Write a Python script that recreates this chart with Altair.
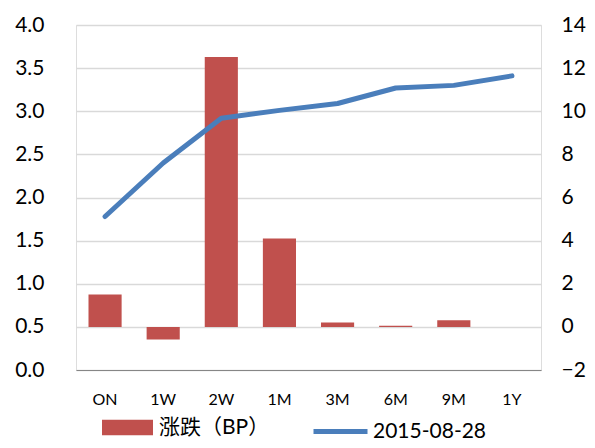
import altair as alt
import pandas as pd

tenors = ["ON", "1W", "2W", "1M", "3M", "6M", "9M", "1Y"]
change_bp = [1.50, -0.59, 12.52, 4.10, 0.20, 0.05, 0.31, 0.0]
rate_0828 = [1.78, 2.40, 2.92, 3.01, 3.09, 3.27, 3.30, 3.41]
bar_name = "涨跌（BP）"
line_name = "2015-08-28"

df = pd.DataFrame({
    "tenor": tenors,
    "change": change_bp,
    "rate": rate_0828,
    "s_bar": bar_name,
    "s_line": line_name,
})

FONT = "Lato, Noto Sans CJK SC, sans-serif"

x = alt.X("tenor:N", sort=tenors, title=None,
          scale=alt.Scale(paddingInner=0.43, paddingOuter=0.215),
          axis=alt.Axis(labelAngle=0, ticks=False, tickSize=0, domainColor="#868686",
                        labelFontSize=16, labelFont=FONT, labelColor="#000000",
                        labelPadding=21, grid=False))

bars = alt.Chart(df).mark_bar().encode(
    x=x,
    y=alt.Y("change:Q", title=None,
            scale=alt.Scale(domain=[-2, 14], nice=False, zero=False),
            axis=alt.Axis(orient="right", values=list(range(-2, 15, 2)), grid=False,
                          domain=False, ticks=False, tickSize=0, labelFontSize=21,
                          labelFont=FONT, labelColor="#000000", labelPadding=20)),
    fill=alt.Fill("s_bar:N", scale=alt.Scale(domain=[bar_name], range=["#C0504D"]),
                  legend=alt.Legend(title=None, orient="none", legendX=26, legendY=377,
                                    symbolType="M-1,-0.3H1V0.3H-1Z", symbolSize=2601,
                                    symbolStrokeWidth=0, symbolFillColor="#C0504D",
                                    labelFontSize=21, labelFont=FONT, labelColor="#000000",
                                    labelOffset=6, labelLimit=300)),
)

line = alt.Chart(df).mark_line(strokeWidth=5, strokeCap="round", strokeJoin="round").encode(
    x=x,
    y=alt.Y("rate:Q", title=None,
            scale=alt.Scale(domain=[0, 4], nice=False),
            axis=alt.Axis(orient="left", values=[i * 0.5 for i in range(9)], format=".1f",
                          grid=True, gridColor="#D9D9D9", gridWidth=1.3,
                          domain=False, ticks=False, tickSize=0, labelFontSize=21,
                          labelFont=FONT, labelColor="#000000", labelPadding=32)),
    stroke=alt.Stroke("s_line:N", scale=alt.Scale(domain=[line_name], range=["#4A7EBB"]),
                      legend=alt.Legend(title=None, orient="none", legendX=235, legendY=377,
                                        symbolType="M-1,0H1", symbolSize=2916,
                                        symbolStrokeWidth=5, symbolStrokeColor="#4A7EBB",
                                        labelFontSize=21, labelFont=FONT, labelColor="#000000",
                                        labelOffset=3, labelLimit=300)),
)

chart = alt.layer(bars, line).resolve_scale(y="independent").properties(
    width=465, height=345,
    autosize=alt.AutoSizeParams(type="none"),
    padding={"left": 68, "top": 17, "right": 46, "bottom": 70},
).configure_view(stroke=None).configure(background="white")

chart.save("out.html", embed_options={"renderer": "svg", "actions": False})
